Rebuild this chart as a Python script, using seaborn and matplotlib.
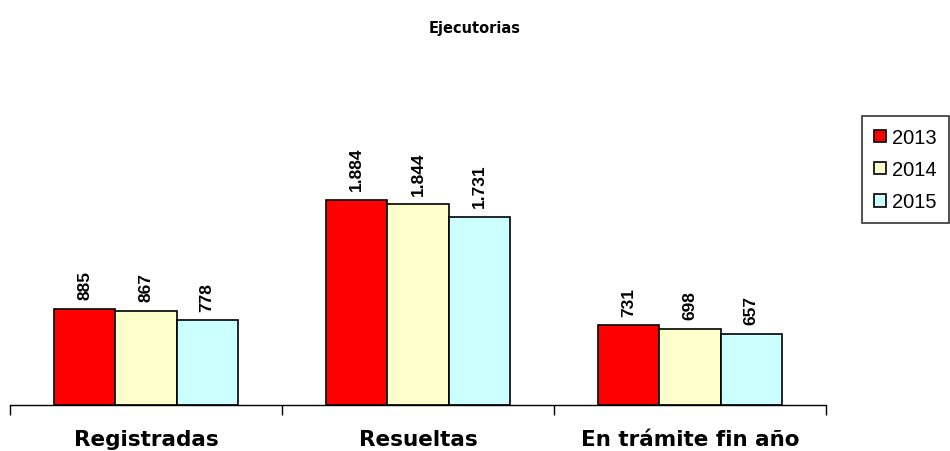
import pandas as pd
import numpy as np
import matplotlib
matplotlib.use('Agg')
import matplotlib.pyplot as plt
from matplotlib.patches import Patch
import seaborn as sns

# data
categories = ['Registradas', 'Resueltas', 'En trámite fin año']
years = ['2013', '2014', '2015']
values_2013 = [885, 1884, 731]
values_2014 = [867, 1844, 698]
values_2015 = [778, 1731, 657]
value_labels = {885: '885', 1884: '1.884', 731: '731',
                867: '867', 1844: '1.844', 698: '698',
                778: '778', 1731: '1.731', 657: '657'}

color = {'2013': '#FF0000', '2014': '#FFFFCC', '2015': '#CCFFFF'}

df = pd.DataFrame({
    'categoria': categories * 3,
    'anio': [y for y in years for _ in categories],
    'valor': values_2013 + values_2014 + values_2015,
})

sns.set_style('white')
plt.rcParams['font.family'] = ['Liberation Sans', 'DejaVu Sans']
plt.rcParams['text.color'] = 'black'
plt.rcParams['xtick.color'] = 'black'

fig = plt.figure(figsize=(9.5, 4.52), dpi=100)
ax = fig.add_axes([10/950, 1 - 406/452, 816/950, 300/452])

sns.barplot(data=df, x='categoria', y='valor', hue='anio', order=categories,
            hue_order=years, palette=color, width=0.675, gap=0, saturation=1,
            edgecolor='black', linewidth=1.2, legend=False, ax=ax)

for cont in ax.containers:
    labels = [value_labels[int(round(b.get_height()))] for b in cont]
    ax.bar_label(cont, labels=labels, rotation=90, padding=7,
                 fontsize=12.5, fontweight='bold', color='black')

ax.set_xlim(-0.5, 2.5)
ax.set_ylim(0, 1884 * 300 / 205)
ax.set(xlabel='', ylabel='', yticks=[])
for s in ['top', 'right', 'left']:
    ax.spines[s].set_visible(False)
ax.spines['bottom'].set_color('black')
ax.spines['bottom'].set_linewidth(1)

ax.set_xticks([0, 1, 2])
ax.set_xticklabels(categories, fontsize=15.5, fontweight='bold',
                   family='DejaVu Sans', color='black')
ax.tick_params(axis='x', which='major', length=0, pad=17)
ax.set_xticks([-0.5, 0.5, 1.5, 2.5], minor=True)
ax.tick_params(axis='x', which='minor', length=7, width=1, color='black',
               direction='out', bottom=True)

fig.text(0.5, 1 - 28/452, 'Ejecutorias', ha='center', va='center',
         fontsize=10.5, fontweight='bold', family='DejaVu Sans')

handles = [Patch(facecolor=color[y], edgecolor='black', linewidth=1.2, label=y)
           for y in years]
leg = fig.legend(handles=handles, loc='upper left',
                 bbox_to_anchor=(862/950, 1 - 117/452), frameon=True,
                 fancybox=False, edgecolor='black', fontsize=14.5,
                 handlelength=0.6, handleheight=0.6, handletextpad=0.3,
                 labelspacing=0.65, borderpad=0.6, borderaxespad=0)
leg.get_frame().set_linewidth(1.2)

fig.savefig('out.png', dpi=100)
